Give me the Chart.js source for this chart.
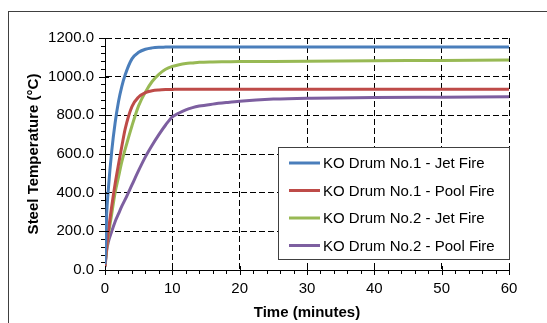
<!DOCTYPE html>
<html>
<head>
<meta charset="utf-8">
<script src="https://cdn.jsdelivr.net/npm/chart.js@4/dist/chart.umd.min.js"></script>
<style>
  html, body { margin: 0; padding: 0; background: #fff; }
  #wrap { position: relative; width: 547px; height: 323px; }
</style>
</head>
<body>
<div id="wrap"><canvas id="tempChart" width="547" height="323"></canvas></div>
<script>
// time axis (minutes) shared by all series
const timeMinutes = [0, 0.25, 0.5, 1, 1.5, 2, 2.5, 3, 4, 5, 6, 7, 8, 9, 10, 11, 12, 13, 14, 16, 18, 20, 25, 30, 40, 50, 60];

// steel temperature (deg C)
const drum1Jet  = [30, 290, 420, 615, 760, 870, 950, 1010, 1092, 1126, 1142, 1149, 1152, 1153, 1154, 1154, 1154, 1154, 1154, 1154, 1154, 1154, 1154, 1154, 1154, 1154, 1154];
const drum1Pool = [20, 120, 200, 330, 445, 545, 640, 730, 845, 895, 918, 927, 931, 933, 934, 935, 935, 935, 935, 935, 935, 935, 935, 935, 935, 935, 935];
const drum2Jet  = [20, 110, 180, 290, 400, 480, 560, 625, 745, 850, 920, 975, 1012, 1038, 1053, 1062, 1068, 1071, 1074, 1076, 1077, 1078, 1079, 1080, 1082, 1084, 1086];
const drum2Pool = [15, 100, 145, 200, 250, 290, 330, 365, 440, 515, 585, 645, 700, 750, 792, 812, 828, 840, 848, 858, 866, 873, 884, 889, 892, 894, 896];

const seriesLabels = ['KO Drum No.1 - Jet Fire', 'KO Drum No.1 - Pool Fire', 'KO Drum No.2 - Jet Fire', 'KO Drum No.2 - Pool Fire'];
const seriesColors = ['#4A7EBB', '#BE4B48', '#98B954', '#7D5FA0'];
const seriesValues = [drum1Jet, drum1Pool, drum2Jet, drum2Pool];

const xTicks = { min: 0, max: 60, step: 10, minor: 2 };
const yTicks = { min: 0, max: 1200, step: 200, minor: 40 };

function toPoints(vals){
  return vals.map((v, i) => ({ x: timeMinutes[i], y: v }));
}

// outer frame behind everything
const framePlugin = {
  id: 'frame',
  beforeDraw(chart){
    const ctx = chart.ctx;
    ctx.save();
    ctx.fillStyle = '#fff';
    ctx.fillRect(0, 0, chart.width, chart.height);
    ctx.strokeStyle = '#404040';
    ctx.lineWidth = 1;
    ctx.strokeRect(8.5, 11.5, 700, 400);
    ctx.restore();
  }
};

// major ticks crossing the axis, minor ticks outside
const ticksPlugin = {
  id: 'axisTicks',
  afterDraw(chart){
    const ctx = chart.ctx;
    const xs = chart.scales.x, ys = chart.scales.y;
    const area = chart.chartArea;
    ctx.save();
    ctx.strokeStyle = '#000';
    ctx.lineWidth = 1;
    ctx.beginPath();
    for(let v = yTicks.min; v <= yTicks.max; v += yTicks.minor){
      const py = Math.round(ys.getPixelForValue(v)) + 0.5;
      const major = v % yTicks.step === 0;
      ctx.moveTo(area.left - (major ? 6 : 4), py);
      ctx.lineTo(area.left + (major ? 4 : 0), py);
    }
    for(let v = xTicks.min; v <= xTicks.max; v += xTicks.minor){
      const px = Math.round(xs.getPixelForValue(v)) + 0.5;
      const major = v % xTicks.step === 0;
      ctx.moveTo(px, area.bottom - (major ? 4 : 0));
      ctx.lineTo(px, area.bottom + (major ? 5 : 4));
    }
    ctx.stroke();
    ctx.restore();
  }
};

// boxed legend inside the plot
const boxLegendPlugin = {
  id: 'boxLegend',
  afterDraw(chart){
    const ctx = chart.ctx;
    const bx = 278.5, by = 147.5, bw = 231, bh = 112;
    ctx.save();
    ctx.fillStyle = '#fff';
    ctx.fillRect(bx, by, bw, bh);
    ctx.strokeStyle = '#404040';
    ctx.lineWidth = 1;
    ctx.strokeRect(bx, by, bw, bh);
    ctx.font = '15px "Liberation Sans", Arial, sans-serif';
    ctx.textBaseline = 'middle';
    ctx.fillStyle = '#000';
    chart.data.datasets.forEach((ds, i) => {
      const cy = 163 + i * 27.5;
      ctx.strokeStyle = ds.borderColor;
      ctx.lineWidth = 3;
      ctx.beginPath();
      ctx.moveTo(289, cy);
      ctx.lineTo(320, cy);
      ctx.stroke();
      ctx.fillText(ds.label, 323, cy + 1);
    });
    ctx.restore();
  }
};

const labelFont = { family: '"Liberation Sans", Arial, sans-serif', size: 15 };
const titleFont = { family: '"Liberation Sans", Arial, sans-serif', size: 15, weight: 'bold' };

new Chart(document.getElementById('tempChart'), {
  type: 'line',
  data: {
    datasets: seriesValues.map((vals, i) => ({
      label: seriesLabels[i],
      data: toPoints(vals),
      borderColor: seriesColors[i],
      backgroundColor: seriesColors[i],
      borderWidth: 3,
      pointRadius: 0,
      cubicInterpolationMode: 'monotone',
      fill: false
    }))
  },
  options: {
    responsive: false,
    animation: false,
    events: [],
    layout: { padding: { left: 8, top: 38, right: 38, bottom: 0 } },
    plugins: { legend: { display: false }, tooltip: { enabled: false } },
    scales: {
      x: {
        type: 'linear',
        min: xTicks.min, max: xTicks.max,
        afterFit(s){ s.height = 53; },
        ticks: { stepSize: xTicks.step, color: '#000', font: labelFont, padding: 10, maxRotation: 0 },
        grid: { color: '#000', lineWidth: 1, drawTicks: false },
        border: { display: true, color: '#000', width: 1, dash: [6, 3] },
        title: { display: true, text: 'Time (minutes)', color: '#000', font: titleFont, padding: { top: 0, bottom: 1 } }
      },
      y: {
        min: yTicks.min, max: yTicks.max,
        afterFit(s){ s.width = 97; },
        ticks: { stepSize: yTicks.step, color: '#000', font: labelFont, padding: 11,
          callback: v => Number(v).toFixed(1) },
        grid: { color: '#000', lineWidth: 1, drawTicks: false },
        border: { display: true, color: '#000', width: 1, dash: [6, 3] },
        title: { display: true, text: 'Steel Temperature (°C)', color: '#000', font: titleFont, padding: { top: 17, bottom: 0 } }
      }
    }
  },
  plugins: [framePlugin, ticksPlugin, boxLegendPlugin]
});
</script>
</body>
</html>
